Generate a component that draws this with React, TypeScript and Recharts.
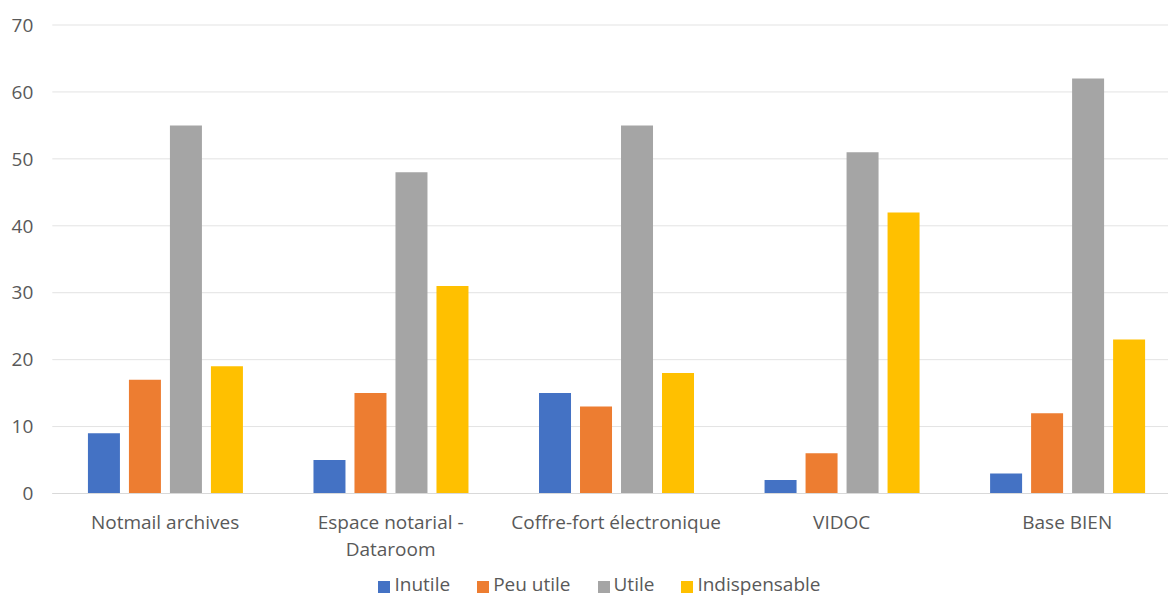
import { BarChart, Bar, XAxis, YAxis, CartesianGrid, Legend, Text } from 'recharts';

const categories = ['Notmail archives', 'Espace notarial - Dataroom', 'Coffre-fort électronique', 'VIDOC', 'Base BIEN'];
const seriesNames = ['Inutile', 'Peu utile', 'Utile', 'Indispensable'];
const inutile = [9, 5, 15, 2, 3];
const peuUtile = [17, 15, 13, 6, 12];
const utile = [55, 48, 55, 51, 62];
const indispensable = [19, 31, 18, 42, 23];
const yTicks = [0, 10, 20, 30, 40, 50, 60, 70];

const data = categories.map((name, i) => ({
  name,
  Inutile: inutile[i],
  'Peu utile': peuUtile[i],
  Utile: utile[i],
  Indispensable: indispensable[i],
}));

const FONT = '"Open Sans", "Noto Sans", sans-serif';
const TEXT = '#595959';
const FS = 19;

// category labels: break "xxx - yyy" after the dash, like the original
function CategoryTick(props: any) {
  const { x, y, payload } = props;
  const label: string = payload.value;
  const parts = label.includes(' - ') ? [label.split(' - ')[0] + ' -', label.split(' - ')[1]] : [label];
  return (
    <g>
      {parts.map((p, i) => (
        <Text key={i} x={x} y={y + i * 27} textAnchor="middle" verticalAnchor="start" fill={TEXT} fontSize={FS} fontFamily={FONT}>
          {p}
        </Text>
      ))}
    </g>
  );
}

export default function App() {
  return (
    <div style={{ position: 'absolute', left: 0, top: 0, width: 1168, height: 597, overflow: 'hidden', background: '#fff' }}>
      <BarChart
        width={1180}
        height={597}
        data={data}
        margin={{ top: 25, right: 0, bottom: 0, left: 0 }}
        barCategoryGap="15.8%"
        barGap={9}
      >
        <CartesianGrid vertical={false} stroke="#e3e3e3" />
        <XAxis
          dataKey="name"
          height={73.5}
          axisLine={{ stroke: '#d9d9d9' }}
          tickLine={false}
          tickMargin={16}
          tick={<CategoryTick />}
          interval={0}
        />
        <YAxis
          width={52.3}
          domain={[0, 70]}
          ticks={yTicks}
          axisLine={false}
          tickLine={false}
          tickMargin={13}
          tick={{ fill: TEXT, fontSize: FS, fontFamily: FONT }}
        />
        <Legend
          verticalAlign="bottom"
          height={30}
          iconType="square"
          iconSize={12}
          itemSorter={(item: any) => seriesNames.indexOf(item.value)}
          wrapperStyle={{ bottom: -4, left: 23 }}
          formatter={(value: string) => (
            <span style={{ color: TEXT, fontSize: FS, fontFamily: FONT, marginRight: 17 }}>{value}</span>
          )}
        />
        <Bar dataKey="Inutile" fill="#4472C4" isAnimationActive={false} />
        <Bar dataKey="Peu utile" fill="#ED7D31" isAnimationActive={false} />
        <Bar dataKey="Utile" fill="#A5A5A5" isAnimationActive={false} />
        <Bar dataKey="Indispensable" fill="#FFC000" isAnimationActive={false} />
      </BarChart>
    </div>
  );
}
